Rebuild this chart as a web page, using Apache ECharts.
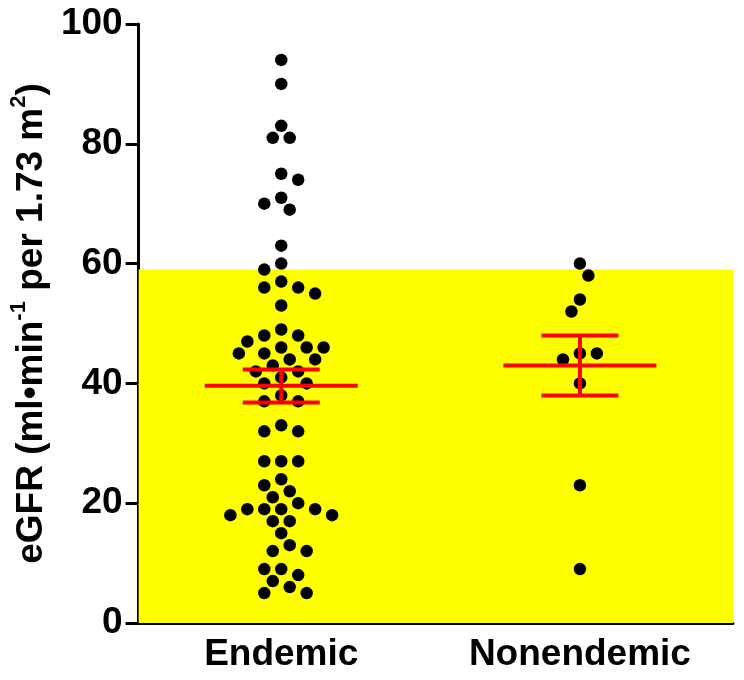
<!DOCTYPE html>
<html>
<head>
<meta charset="utf-8">
<script src="https://cdn.jsdelivr.net/npm/echarts@6/dist/echarts.min.js"></script>
<style>
html,body{margin:0;padding:0;background:#fff;}
#chart{width:744px;height:680px;}
</style>
</head>
<body>
<div id="chart"></div>
<script>
// ---- data ----
const categories = ['Endemic', 'Nonendemic'];
const endemicValues = [94, 90, 83, 81, 81, 75, 74, 71, 70, 69, 63, 60, 59, 57, 56, 56, 55, 53, 49, 48,
  48, 47, 46, 46, 46, 45, 45, 44, 44, 43, 42, 42, 41, 40, 40, 38, 37, 37, 33, 32,
  32, 27, 27, 27, 24, 23, 22, 21, 20, 19, 19, 19, 19, 18, 18, 17, 17, 15, 13, 12,
  12, 9, 9, 8, 7, 6, 5, 5];
const nonendemicValues = [60, 58, 54, 52, 45, 45, 44, 40, 23, 9];
const meanValues = [39.6, 43.0];
const upperValues = [42.3, 48.0];
const lowerValues = [36.8, 38.0];
const normalLimit = 59;           // upper edge of yellow band
const yTicks = [0, 20, 40, 60, 80, 100];

// ---- layout ----
const GRID = {left: 137, right: 11, top: 24, bottom: 57};
const W = 744, H = 680;
const gridW = W - GRID.left - GRID.right;
const gridH = H - GRID.top - GRID.bottom;
const PX_PER_X = 299.5;
const X_MIN = -143 / PX_PER_X;
const X_MAX = X_MIN + gridW / PX_PER_X;
const PX_PER_Y = gridH / 100;

const DOT = 12.5, COLLIDE = 14.5, STEP = 8.5;
function swarm(vals) {
  const placed = [];
  const order = vals.map((v, i) => i).sort((a, b) => vals[b] - vals[a]);
  const out = new Array(vals.length);
  let flip = 1;
  order.forEach(i => {
    const py = vals[i] * PX_PER_Y;
    for (let k = 0; k < 40; k++) {
      const cands = k === 0 ? [0] : [flip * k, -flip * k];
      let found = null;
      for (const c of cands) {
        const px = c * STEP;
        if (placed.every(p => Math.hypot(p.x - px, p.y - py) >= COLLIDE)) { found = px; break; }
      }
      if (found !== null) {
        if (found !== 0) flip = -flip;
        out[i] = found; placed.push({x: found, y: py}); break;
      }
    }
  });
  return out;
}
function points(vals, catIdx) {
  const off = swarm(vals);
  return vals.map((v, i) => [catIdx + off[i] / PX_PER_X, v]);
}

const errData = categories.map((c, i) => [i, meanValues[i], upperValues[i], lowerValues[i]]);
const FONT = 'Liberation Sans';

const chart = echarts.init(document.getElementById('chart'), null, {renderer: 'canvas'});
chart.setOption({
  animation: false,
  backgroundColor: '#ffffff',
  grid: GRID,
  xAxis: {
    type: 'value', min: X_MIN, max: X_MAX,
    splitLine: {show: false},
    axisLine: {onZero: false, lineStyle: {color: '#000', width: 3}},
    axisTick: {show: false},
    axisLabel: {
      customValues: [0, 1],
      formatter: v => categories[Math.round(v)],
      fontFamily: FONT, fontWeight: 'bold', fontSize: 37, color: '#000', margin: 13
    }
  },
  yAxis: {
    type: 'value', min: 0, max: 100, interval: 20,
    splitLine: {show: false},
    axisLine: {show: true, onZero: false, lineStyle: {color: '#000', width: 3}},
    axisTick: {show: true, length: 13, lineStyle: {color: '#000', width: 3}},
    axisLabel: {
      formatter: v => yTicks.includes(v) ? String(v) : '',
      fontFamily: FONT, fontWeight: 'bold', fontSize: 37, color: '#000', margin: 16
    },
    name: '{a|eGFR (ml•min}{s|-1}{a| per 1.73 m}{s|2}{a|)}',
    nameLocation: 'middle', nameRotate: 90, nameGap: 71,
    nameTextStyle: {
      rich: {
        a: {fontFamily: FONT, fontWeight: 'bold', fontSize: 37, color: '#000', verticalAlign: 'bottom', lineHeight: 42},
        s: {fontFamily: FONT, fontWeight: 'bold', fontSize: 22, color: '#000', verticalAlign: 'top', lineHeight: 42}
      }
    }
  },
  series: [
    {
      type: 'line', data: [], z: -1, silent: true,
      markArea: {
        silent: true,
        itemStyle: {color: '#ffff00', opacity: 1},
        data: [[{yAxis: 0}, {yAxis: normalLimit}]]
      }
    },
    {
      type: 'scatter', symbol: 'circle', symbolSize: DOT, z: 3,
      itemStyle: {color: '#000', opacity: 1},
      data: points(endemicValues, 0)
    },
    {
      type: 'scatter', symbol: 'circle', symbolSize: DOT, z: 3,
      itemStyle: {color: '#000', opacity: 1},
      data: points(nonendemicValues, 1)
    },
    {
      type: 'custom', z: 5, silent: true,
      data: errData,
      renderItem: (params, api) => {
        const x = api.value(0);
        const m = api.coord([x, api.value(1)]);
        const u = api.coord([x, api.value(2)]);
        const l = api.coord([x, api.value(3)]);
        const st = {stroke: '#ff0000', lineWidth: 4};
        const MH = 76.5, CH = 38.5;
        return {
          type: 'group',
          children: [
            {type: 'line', shape: {x1: m[0] - MH, y1: m[1], x2: m[0] + MH, y2: m[1]}, style: st},
            {type: 'line', shape: {x1: u[0], y1: u[1], x2: l[0], y2: l[1]}, style: st},
            {type: 'line', shape: {x1: u[0] - CH, y1: u[1], x2: u[0] + CH, y2: u[1]}, style: st},
            {type: 'line', shape: {x1: l[0] - CH, y1: l[1], x2: l[0] + CH, y2: l[1]}, style: st}
          ]
        };
      }
    }
  ]
});
</script>
</body>
</html>
